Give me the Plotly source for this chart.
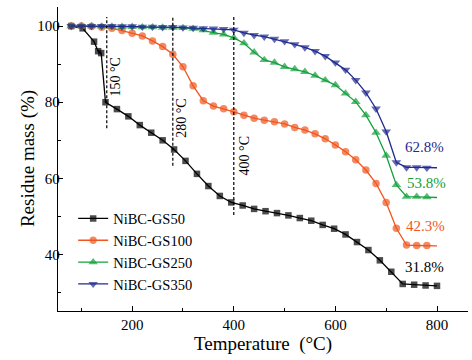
import plotly.graph_objects as go

# ---------------- data ----------------
temp_gs50 = [80, 102.5, 125, 133, 139, 147.5, 170, 192.5, 215, 237.5, 260, 282.5, 305, 327.5,
             350, 372.5, 395, 417.5, 440, 462.5, 485, 507.5, 530, 552.5, 575, 597.5,
             620, 642.5, 665, 687.5, 710, 732.5, 755, 777.5, 800]
mass_gs50 = [100, 99.4, 95.9, 93.4, 92.9, 80.0, 78.2, 76.3, 74.0, 72.0, 70.0, 67.6, 64.6, 61.2,
             58.0, 55.4, 53.7, 52.9, 52.0, 51.4, 50.9, 50.3, 49.6, 48.9, 47.8, 46.8,
             45.3, 43.3, 41.2, 38.5, 35.5, 32.3, 32.1, 31.9, 31.8]

temp_20 = [80, 100, 120, 140, 160, 180, 200, 220, 240, 260, 280, 300, 320, 340, 360, 380, 400,
           420, 440, 460, 480, 500, 520, 540, 560, 580, 600, 620, 640, 660, 680, 700, 720,
           740, 760, 780, 800]
mass_gs100 = [100, 100, 99.9, 99.7, 99.4, 98.8, 98.1, 97.4, 96.1, 94.6, 92.6, 89.3, 84.3, 80.4,
              79.0, 78.3, 77.5, 76.6, 75.8, 75.3, 74.9, 74.3, 73.4, 72.7, 71.7, 70.4, 68.8,
              67.0, 64.9, 62.2, 58.7, 53.7, 46.9, 42.5, 42.4, 42.4, 42.3]
mass_gs250 = [100, 100, 100, 99.9, 99.9, 99.8, 99.8, 99.7, 99.7, 99.6, 99.6, 99.5, 99.3, 98.9,
              98.3, 97.8, 96.9, 95.5, 93.1, 91.1, 90.4, 89.3, 88.7, 88.0, 87.0, 85.8, 84.5,
              82.3, 80.1, 76.6, 72.0, 66.0, 58.3, 55.2, 55.2, 55.1, 55.0]
mass_gs350 = [100, 100, 100, 100, 100, 99.9, 99.9, 99.8, 99.8, 99.7, 99.7, 99.6, 99.5, 99.4,
              99.3, 99.2, 99.0, 98.2, 97.6, 97.2, 96.6, 96.0, 95.2, 94.4, 93.4, 92.1, 90.4,
              88.5, 85.8, 82.5, 78.3, 72.3, 64.2, 62.9, 62.9, 62.8, 62.8]

series_names = ["NiBC-GS50", "NiBC-GS100", "NiBC-GS250", "NiBC-GS350"]
residue_labels = ["31.8%", "42.3%", "53.8%", "62.8%"]
residue_label_x = [776, 778, 779, 776]
residue_label_y = [36.8, 47.5, 58.9, 68.2]

stage_temps = [150, 280, 400]
stage_labels = ["150 °C", "280 °C", "400 °C"]
stage_line_bottom = [73.2, 63.3, 50.4]
stage_line_top = 102.4
stage_label_x = [167, 298, 421]
stage_label_y = [86.6, 75.9, 65.9]

x_title = "Temperature\u00a0 (°C)"
y_title = "Residue mass (%)"

# ---------------- style ----------------
FONT = "Liberation Serif, Times New Roman, serif"
colors = ["#000000", "#F0561E", "#13A03C", "#1F2B8E"]
symbols = ["square", "circle", "triangle-up", "triangle-down"]
msizes = [6.5, 7.5, 8.5, 8.5]

fig = go.Figure()
data = [(temp_gs50, mass_gs50), (temp_20, mass_gs100), (temp_20, mass_gs250), (temp_20, mass_gs350)]
for i, (xs, ys) in enumerate(data):
    sizes = [msizes[i]] * len(xs)
    if i > 0:
        sizes[-1] = 0  # last point drawn as line only
    fig.add_trace(go.Scatter(
        x=xs, y=ys, name=series_names[i], mode="lines+markers",
        line=dict(color=colors[i], width=1.3),
        marker=dict(symbol=symbols[i], size=sizes, color=colors[i], line=dict(width=0)),
    ))

shapes = []
for t, b in zip(stage_temps, stage_line_bottom):
    shapes.append(dict(type="line", xref="x", yref="y", x0=t, x1=t, y0=b, y1=stage_line_top,
                       line=dict(color="black", width=1.2, dash="3px,2px")))

annotations = []
for lab, x, y in zip(stage_labels, stage_label_x, stage_label_y):
    annotations.append(dict(x=x, y=y, xref="x", yref="y", text=lab, showarrow=False,
                            xanchor="center", yanchor="middle",
                            textangle=-90, font=dict(family=FONT, size=14, color="black")))
for lab, x, y, c in zip(residue_labels, residue_label_x, residue_label_y, colors):
    annotations.append(dict(x=x, y=y, xref="x", yref="y", text=lab, showarrow=False,
                            xanchor="center", yanchor="middle",
                            font=dict(family=FONT, size=15, color=c)))
# y-axis title
annotations.append(dict(x=-0.073, y=0.5, xref="paper", yref="paper", text=y_title,
                        showarrow=False, xanchor="center", yanchor="middle", textangle=-90,
                        font=dict(family=FONT, size=19, color="black")))

fig.update_layout(
    width=472, height=360,
    margin=dict(l=58, r=4, t=7, b=49, autoexpand=False),
    paper_bgcolor="white", plot_bgcolor="white",
    font=dict(family=FONT, size=15, color="black"),
    showlegend=True,
    legend=dict(x=0.037, y=0.357, xanchor="left", yanchor="top", bgcolor="rgba(0,0,0,0)",
                font=dict(family=FONT, size=14.5), itemwidth=30, tracegroupgap=0),
    shapes=shapes, annotations=annotations,
)
fig.update_xaxes(
    automargin=False,
    range=[54, 861], showgrid=False, zeroline=False, showline=True, linecolor="black", linewidth=1.3,
    ticks="inside", ticklen=5, tickwidth=1.2, tickcolor="black", tick0=0, dtick=200,
    minor=dict(ticks="inside", ticklen=3, tickwidth=1.1, tickcolor="black", dtick=100, tick0=0),
    tickfont=dict(family=FONT, size=15),
    title=dict(text=x_title, font=dict(family=FONT, size=19), standoff=2),
)
fig.update_yaxes(
    automargin=False,
    range=[25.2, 105], showgrid=False, zeroline=False, showline=True, linecolor="black", linewidth=1.3,
    ticks="inside", ticklen=5, tickwidth=1.2, tickcolor="black", tick0=0, dtick=20,
    minor=dict(ticks="inside", ticklen=3, tickwidth=1.1, tickcolor="black", dtick=10, tick0=0),
    tickfont=dict(family=FONT, size=15), ticklabelstandoff=-6,
)

fig.write_html("out.html", config={"displayModeBar": False},
               post_script="document.body.style.margin='0px';")
